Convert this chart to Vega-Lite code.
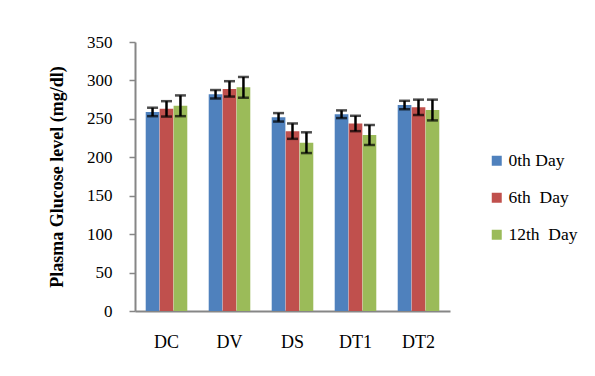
{
  "$schema": "https://vega.github.io/schema/vega-lite/v6.json",
  "autosize": "none",
  "width": 315,
  "height": 269,
  "padding": {"left": 135, "top": 42, "right": 145, "bottom": 65},
  "background": "white",
  "config": {
    "view": {"stroke": null},
    "font": "Liberation Serif",
    "axis": {"labelFont": "Liberation Serif", "titleFont": "Liberation Serif", "labelColor": "black", "titleColor": "black", "domainColor": "#868686", "tickColor": "#868686", "domainWidth": 2, "tickWidth": 1.5, "grid": false},
    "axisY": {"labelOverlap": false, "labelFlush": false, "titleFontSize": 18, "titleFontWeight": "bold", "titlePadding": 20, "labelFontSize": 17, "tickSize": 6, "labelPadding": 17},
    "legend": {"labelFont": "Liberation Serif"}
  },
  "data": {
    "values": [
      {"group": "DC", "series": "0th Day", "value": 259, "lo": 253.5, "hi": 264.5},
      {"group": "DC", "series": "6th\u00a0 Day", "value": 263, "lo": 253, "hi": 273},
      {"group": "DC", "series": "12th\u00a0 Day", "value": 267, "lo": 253.5, "hi": 280.5},
      {"group": "DV", "series": "0th Day", "value": 282, "lo": 276.5, "hi": 287.5},
      {"group": "DV", "series": "6th\u00a0 Day", "value": 289, "lo": 279, "hi": 299},
      {"group": "DV", "series": "12th\u00a0 Day", "value": 291, "lo": 277.5, "hi": 304.5},
      {"group": "DS", "series": "0th Day", "value": 252, "lo": 246.5, "hi": 257.5},
      {"group": "DS", "series": "6th\u00a0 Day", "value": 234, "lo": 224, "hi": 244},
      {"group": "DS", "series": "12th\u00a0 Day", "value": 219, "lo": 205.5, "hi": 232.5},
      {"group": "DT1", "series": "0th Day", "value": 256, "lo": 251, "hi": 261},
      {"group": "DT1", "series": "6th\u00a0 Day", "value": 244, "lo": 234, "hi": 254},
      {"group": "DT1", "series": "12th\u00a0 Day", "value": 229, "lo": 216, "hi": 242},
      {"group": "DT2", "series": "0th Day", "value": 268, "lo": 262.5, "hi": 273.5},
      {"group": "DT2", "series": "6th\u00a0 Day", "value": 265, "lo": 255, "hi": 275},
      {"group": "DT2", "series": "12th\u00a0 Day", "value": 261.5, "lo": 248, "hi": 275}
    ]
  },
  "encoding": {
    "x": {
      "field": "group", "type": "nominal", "sort": ["DC", "DV", "DS", "DT1", "DT2"],
      "scale": {"paddingInner": 0.34, "paddingOuter": 0.17},
      "axis": {"title": null, "labelAngle": 0, "labelFontSize": 18, "ticks": false, "labelPadding": 22}
    },
    "xOffset": {"field": "series", "type": "nominal", "sort": ["0th Day", "6th\u00a0 Day", "12th\u00a0 Day"], "scale": {"paddingInner": 0.02}}
  },
  "layer": [
    {
      "mark": {"type": "bar"},
      "encoding": {
        "y": {
          "field": "value", "type": "quantitative",
          "scale": {"domain": [0, 350]},
          "axis": {"values": [0, 50, 100, 150, 200, 250, 300, 350], "title": "Plasma Glucose level (mg/dl)"}
        },
        "color": {
          "field": "series", "type": "nominal", "sort": ["0th Day", "6th\u00a0 Day", "12th\u00a0 Day"],
          "scale": {"domain": ["0th Day", "6th\u00a0 Day", "12th\u00a0 Day"], "range": ["#4F81BD", "#C0504D", "#9BBB59"]},
          "legend": {"title": null, "orient": "none", "legendX": 353, "legendY": 110, "symbolType": "square", "symbolSize": 100, "symbolStrokeWidth": 0, "labelFontSize": 17.5, "rowPadding": 18, "labelOffset": 3}
        }
      }
    },
    {
      "mark": {"type": "rule", "color": "black", "strokeWidth": 2.5},
      "encoding": {"y": {"field": "lo", "type": "quantitative", "axis": {"values": [0, 50, 100, 150, 200, 250, 300, 350], "title": "Plasma Glucose level (mg/dl)"}}, "y2": {"field": "hi"}}
    },
    {
      "mark": {"type": "tick", "color": "black", "thickness": 2.5, "size": 11},
      "encoding": {"y": {"field": "lo", "type": "quantitative", "axis": {"values": [0, 50, 100, 150, 200, 250, 300, 350], "title": "Plasma Glucose level (mg/dl)"}}}
    },
    {
      "mark": {"type": "tick", "color": "black", "thickness": 2.5, "size": 11},
      "encoding": {"y": {"field": "hi", "type": "quantitative", "axis": {"values": [0, 50, 100, 150, 200, 250, 300, 350], "title": "Plasma Glucose level (mg/dl)"}}}
    }
  ]
}
